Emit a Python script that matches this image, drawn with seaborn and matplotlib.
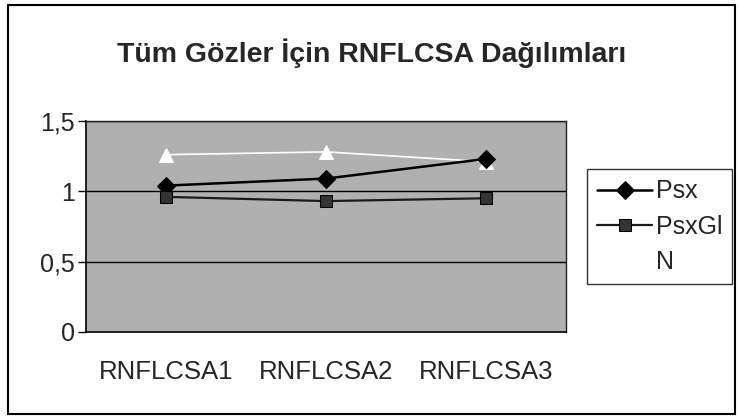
import pandas as pd
import numpy as np
import matplotlib
matplotlib.use("Agg")
import matplotlib.pyplot as plt
import seaborn as sns
from matplotlib.patches import Rectangle

# data
categories = ["RNFLCSA1", "RNFLCSA2", "RNFLCSA3"]
psx = [1.04, 1.09, 1.23]
psxgl = [0.96, 0.93, 0.95]
n_vals = [1.26, 1.28, 1.21]
y_ticks = [0, 0.5, 1, 1.5]
y_labels = ["0", "0,5", "1", "1,5"]

sns.set_style("white")
plt.rcParams['font.family'] = ['Liberation Sans', 'DejaVu Sans']

fig = plt.figure(figsize=(7.39, 4.2), dpi=100)
ax = fig.add_axes([0.116, 0.210, 0.650, 0.502])
ax.set_facecolor('#b0b0b0')

# gridlines behind the lines
for yv in y_ticks[1:]:
    ax.axhline(yv, color='black', lw=1.0, zorder=1)

df = pd.DataFrame({"cat": categories * 3,
                   "val": psx + psxgl + n_vals,
                   "serie": ["Psx"] * 3 + ["PsxGl"] * 3 + ["N"] * 3})

sns.lineplot(data=df[df.serie == "Psx"], x="cat", y="val", ax=ax, color='black', lw=1.8,
             marker='D', markersize=9, markeredgecolor='black', label="Psx", zorder=3)
sns.lineplot(data=df[df.serie == "PsxGl"], x="cat", y="val", ax=ax, color='#1a1a1a', lw=1.6,
             marker='s', markersize=8.5, markerfacecolor='#333333', markeredgecolor='black',
             label="PsxGl", zorder=3)
sns.lineplot(data=df[df.serie == "N"], x="cat", y="val", ax=ax, color='white', lw=1.2,
             marker='^', markersize=10, markerfacecolor='white', markeredgecolor='white',
             label="N", zorder=2)

ax.set_xlim(-0.5, 2.5)
ax.set_ylim(0, 1.5)
ax.set_yticks(y_ticks)
ax.set_yticklabels(y_labels, fontsize=18)
ax.set_xticks([0, 1, 2])
ax.set_xticklabels(categories, fontsize=18.5)
ax.set_xticks([-0.5, 0.5, 1.5, 2.5], minor=True)
ax.tick_params(axis='x', which='major', length=0, pad=20)
ax.tick_params(axis='x', which='minor', length=6, width=1, color='black', direction='out')
ax.tick_params(axis='y', length=6, width=1, color='black', direction='out', left=True, pad=2)
ax.set_xlabel("")
ax.set_ylabel("")
for side in ['top', 'right']:
    ax.spines[side].set_color('#222222')
    ax.spines[side].set_linewidth(1.0)
for side in ['left', 'bottom']:
    ax.spines[side].set_color('black')
    ax.spines[side].set_linewidth(1.2)

leg = ax.legend(loc='upper left', bbox_to_anchor=(1.044, 0.77), frameon=True, fontsize=18,
                handlelength=2.2, labelspacing=0.45, borderpad=0.4, handletextpad=0.15,
                fancybox=False, edgecolor='black', borderaxespad=0)
leg.get_frame().set_linewidth(1.0)

fig.text(0.503, 0.873, "Tüm Gözler İçin RNFLCSA Dağılımları", ha='center', va='center',
         fontsize=20.5, fontweight='bold')

# outer chart frame
fig.patches.append(Rectangle((0.011, 0.014), 0.984, 0.974, transform=fig.transFigure,
                             fill=False, edgecolor='black', lw=1.5))

fig.savefig("out.png", dpi=100)
